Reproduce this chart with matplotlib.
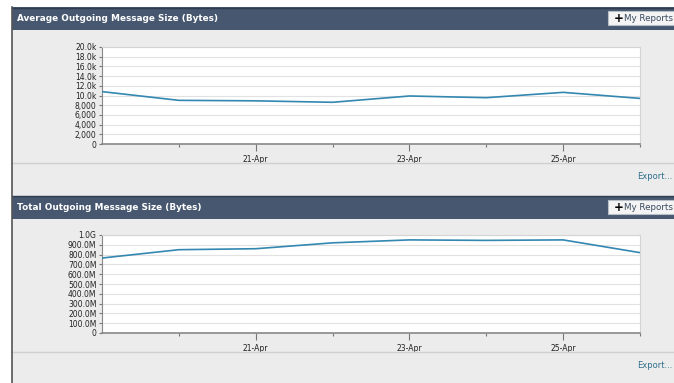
import matplotlib
matplotlib.use("Agg")
import matplotlib.pyplot as plt
from matplotlib.patches import Rectangle
from matplotlib.lines import Line2D
from matplotlib.ticker import FixedLocator

W, H = 674, 383

dates = ["19-Apr", "20-Apr", "21-Apr", "22-Apr", "23-Apr", "24-Apr", "25-Apr", "26-Apr"]
label_dates = ["21-Apr", "23-Apr", "25-Apr"]

avg_size = [10800, 9000, 8900, 8600, 9900, 9550, 10650, 9400]
avg_ticks = [0, 2000, 4000, 6000, 8000, 10000, 12000, 14000, 16000, 18000, 20000]
avg_labels = ["0", "2,000", "4,000", "6,000", "8,000", "10.0k", "12.0k", "14.0k",
              "16.0k", "18.0k", "20.0k"]

total_size = [0.765e9, 0.85e9, 0.86e9, 0.92e9, 0.95e9, 0.945e9, 0.95e9, 0.82e9]
total_ticks = [i * 1e8 for i in range(11)]
total_labels = ["0", "100.0M", "200.0M", "300.0M", "400.0M", "500.0M", "600.0M",
                "700.0M", "800.0M", "900.0M", "1.0G"]

titles = ["Average Outgoing Message Size (Bytes)", "Total Outgoing Message Size (Bytes)"]

fig = plt.figure(figsize=(W / 100, H / 100), dpi=100)
fig.patch.set_facecolor("white")

def fx(x):
    return x / W

def fy(y):
    return 1 - y / H

def rect(x0, y0, x1, y1, **kw):
    fig.add_artist(Rectangle((fx(x0), fy(y1)), fx(x1) - fx(x0), fy(y0) - fy(y1),
                             transform=fig.transFigure, **kw))

def hline(x0, x1, y, **kw):
    fig.add_artist(Line2D([fx(x0), fx(x1)], [fy(y), fy(y)], transform=fig.transFigure, **kw))

# overall gray panel background
rect(12, 7, W + 2, H + 2, facecolor="#ececec", edgecolor="none", zorder=0)
# left border
fig.add_artist(Line2D([fx(12), fx(12)], [fy(7), fy(H)], transform=fig.transFigure,
                      color="#555555", lw=1.2, zorder=5))

header_tops = [7, 196]
sep_y = [163, 352]
export_y = [176, 365]
axes_boxes = [(102, 47, 640, 144), (102, 235, 640, 333)]
series = [avg_size, total_size]
yticks = [avg_ticks, total_ticks]
ylabels = [avg_labels, total_labels]
ymax = [20000, 1e9]

for i in range(2):
    ht = header_tops[i]
    rect(12, ht, W + 2, ht + 23, facecolor="#46576f", edgecolor="none", zorder=1)
    hline(12, W, ht + 0.5, color="#2f3c4f", lw=1, zorder=2)
    fig.text(fx(17), fy(ht + 11.5), titles[i], color="white", fontsize=6.4,
             fontweight="bold", ha="left", va="center", family="DejaVu Sans")
    # My Reports button
    rect(607.5, ht + 4, W + 2, ht + 18, facecolor="#f4f4f4", edgecolor="#b8bec8",
         lw=0.8, zorder=2)
    fig.text(fx(613.5), fy(ht + 11.3), "+", color="black", fontsize=8.5,
             fontweight="bold", ha="left", va="center", zorder=3)
    fig.text(fx(624), fy(ht + 11.5), "My Reports", color="#3b4a60", fontsize=6.3,
             ha="left", va="center", zorder=3)
    # separator line and export
    hline(12, W, sep_y[i], color="#d0d0d0", lw=1, zorder=2)
    fig.text(fx(672), fy(export_y[i]), "Export...", color="#2f6f8c", fontsize=6.0,
             ha="right", va="center")

    x0, y0, x1, y1 = axes_boxes[i]
    ax = fig.add_axes([fx(x0), fy(y1), fx(x1) - fx(x0), fy(y0) - fy(y1)])
    ax.set_facecolor("white")
    xs = list(range(len(dates)))
    ax.plot(xs, series[i], color="#3387b0", lw=1.2, zorder=3)
    ax.set_xlim(0, len(dates) - 1)
    ax.set_ylim(0, ymax[i])
    ax.set_yticks(yticks[i])
    ax.set_yticklabels(ylabels[i])
    ax.yaxis.grid(True, color="#e2e2e2", lw=0.8)
    ax.set_axisbelow(True)
    major = [dates.index(d) for d in label_dates]
    ax.xaxis.set_major_locator(FixedLocator(major))
    ax.set_xticklabels(label_dates)
    minor = [k for k in xs if k not in major and k != 0]
    ax.xaxis.set_minor_locator(FixedLocator(minor))
    ax.tick_params(axis="x", which="major", length=5, width=0.8, color="#777777",
                   labelsize=5.5, pad=3, labelcolor="#222222")
    ax.tick_params(axis="x", which="minor", length=2.5, width=0.8, color="#777777")
    ax.tick_params(axis="y", length=2.5, width=0.8, color="#777777", labelsize=5.5,
                   pad=1.5, labelcolor="#222222")
    for s in ["top", "right"]:
        ax.spines[s].set_color("#d4d4d4")
        ax.spines[s].set_linewidth(0.8)
    ax.spines["left"].set_color("#888888")
    ax.spines["left"].set_linewidth(0.8)
    ax.spines["bottom"].set_color("#888888")
    ax.spines["bottom"].set_linewidth(1.2)

fig.savefig("out.png", dpi=100, facecolor=fig.get_facecolor())
